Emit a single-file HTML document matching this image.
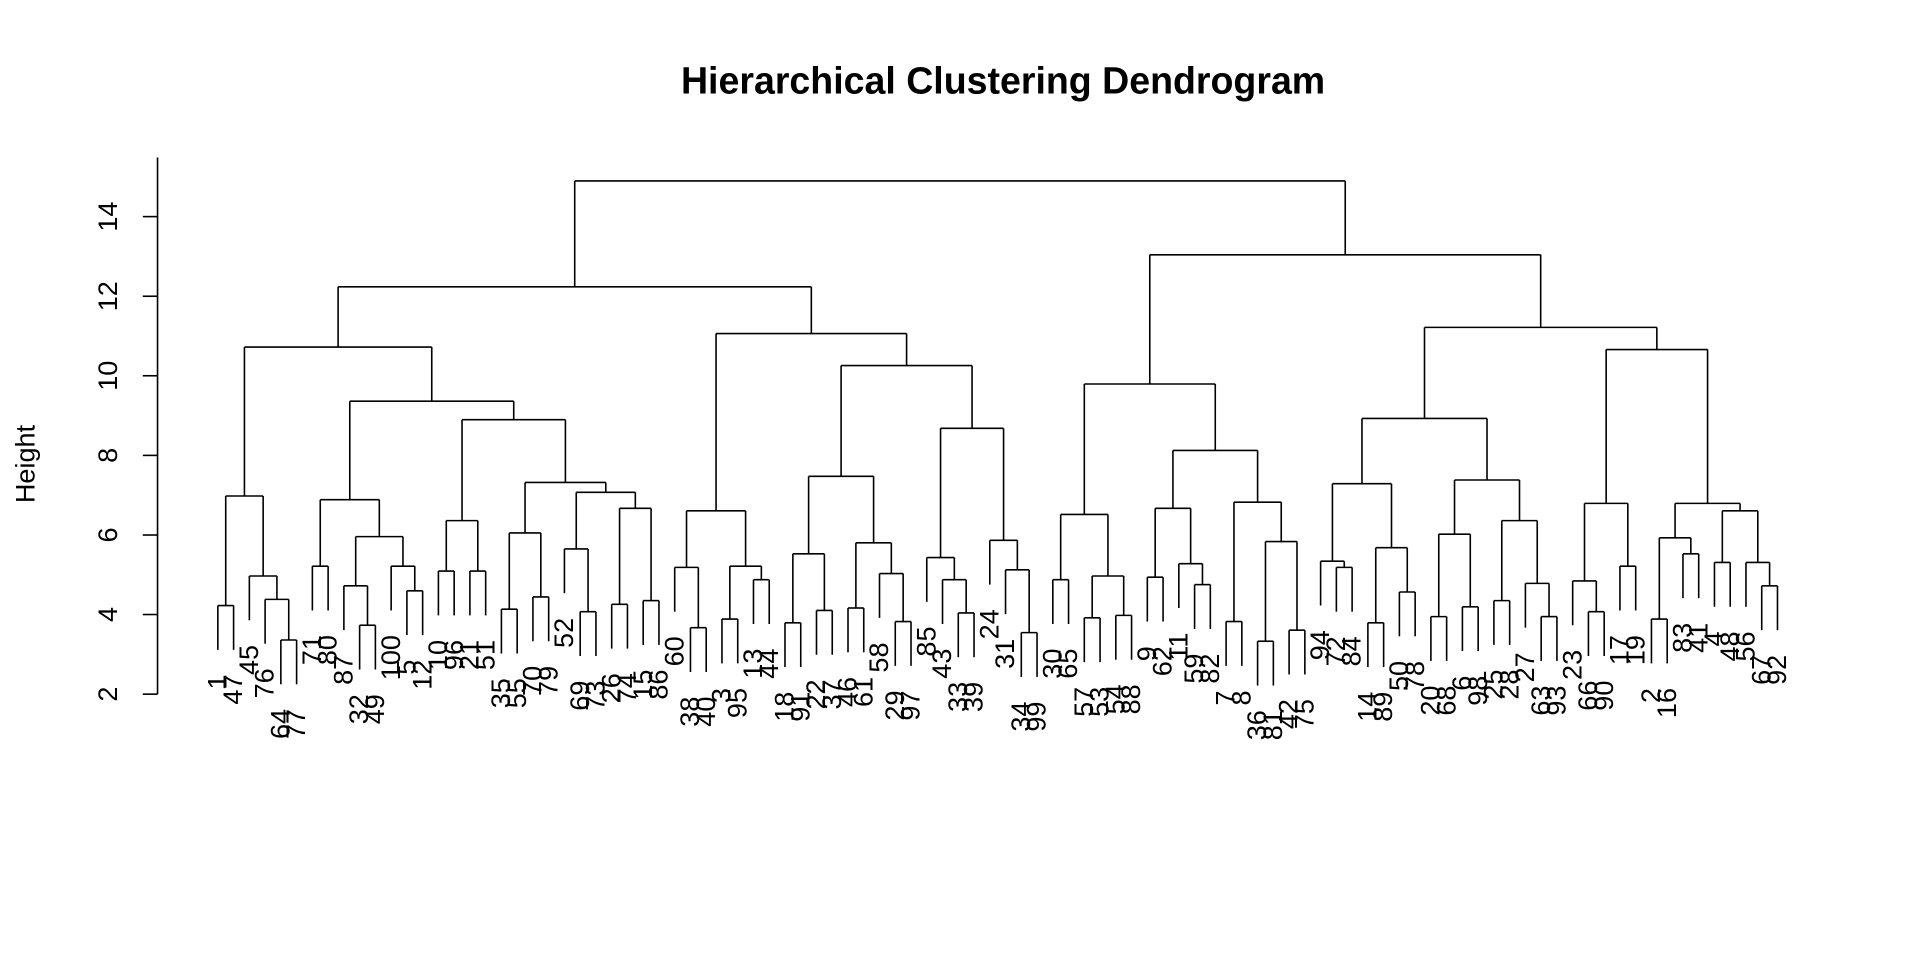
<!DOCTYPE html>
<html><head><meta charset="utf-8"><style>html,body{margin:0;padding:0;background:#fff;}svg{display:block}</style></head>
<body>
<svg id="s" width="1920" height="960" viewBox="0 0 1560 780" preserveAspectRatio="none" xmlns="http://www.w3.org/2000/svg" font-family="Liberation Sans, Arial, sans-serif">
<rect width="1560" height="780" fill="#fff"/>
<text x="815" y="76" text-anchor="middle" font-weight="bold" font-size="30.5">Hierarchical Clustering Dendrogram</text>
<text transform="translate(28,377) rotate(-90)" text-anchor="middle" font-size="22">Height</text>
<g stroke="#000" stroke-width="1.3" fill="none">
<line x1="128" y1="128" x2="128" y2="564"/>
<line x1="116" y1="564" x2="128" y2="564"/>
<line x1="116" y1="499.3" x2="128" y2="499.3"/>
<line x1="116" y1="434.7" x2="128" y2="434.7"/>
<line x1="116" y1="370" x2="128" y2="370"/>
<line x1="116" y1="305.3" x2="128" y2="305.3"/>
<line x1="116" y1="240.7" x2="128" y2="240.7"/>
<line x1="116" y1="176" x2="128" y2="176"/>
</g>
<g font-size="22" text-anchor="middle">
<text transform="translate(95,564) rotate(-90)">2</text>
<text transform="translate(95,499.3) rotate(-90)">4</text>
<text transform="translate(95,434.7) rotate(-90)">6</text>
<text transform="translate(95,370) rotate(-90)">8</text>
<text transform="translate(95,305.3) rotate(-90)">10</text>
<text transform="translate(95,240.7) rotate(-90)">12</text>
<text transform="translate(95,176) rotate(-90)">14</text>
</g>
<g id="tree" stroke="#000" stroke-width="1.3" fill="none"></g>
<g id="labs" font-size="22" text-anchor="end"></g>
</svg>
<script>
var labels=[1,47,45,76,64,77,71,80,87,32,49,100,5,12,10,96,21,51,35,55,70,79,52,69,73,26,74,15,86,60,38,40,3,95,13,44,18,91,22,37,46,61,58,29,97,85,43,33,39,24,31,34,99,30,65,57,53,54,88,9,62,11,59,82,7,8,36,81,42,75,94,72,84,14,89,50,78,20,68,6,98,25,28,27,63,93,23,66,90,17,19,2,16,83,41,4,48,56,67,92];
var A1=[403,[492,0,1],[468,2,[487,3,[520,4,5]]]];
var A2=[406,[460,6,7],[436,[476,8,[508,9,10]],[460,11,[480,12,13]]]];
var A3=[341,[423,[464,14,15],[464,16,17]],[392,[433,[495,18,19],[485,20,21]],[400,[446,22,[497,23,24]],[413,[491,25,26],[488,27,28]]]]];
var A=[282,A1,[326,A2,A3]];
var B1=[415,[461,29,[510,30,31]],[460,[503,32,33],[471,34,35]]];
var B2=[297,[387,[450,[506,36,37],[496,38,39]],[441,[494,40,41],[466,42,[505,43,44]]]],[348,[453,45,[471,46,[498,47,48]]],[439,49,[463,50,[514,51,52]]]]];
var B=[271,B1,B2];
var C=[312,[418,[471,53,54],[468,[502,55,56],[500,57,58]]],[366,[413,[469,59,60],[458,61,[475,62,63]]],[408,[505,64,65],[440,[521,66,67],[512,68,69]]]]];
var D1=[340,[393,[456,70,[461,71,72]],[445,[506,73,74],[481,75,76]]],[390,[434,[501,77,78],[493,79,80]],[423,[488,81,82],[474,83,[501,84,85]]]]];
var D2=[284,[409,[472,86,[497,87,88]],[460,89,90]],[409,[437,[503,91,92],[450,93,94]],[415,[457,95,96],[457,97,[476,98,99]]]]];
var D=[266,D1,D2];
var root=[147,[233,A,B],[207,C,D]];
var HANG=36,GAP=20;
var T=document.getElementById('tree'),L=document.getElementById('labs'),NS='http://www.w3.org/2000/svg';
function ln(x1,y1,x2,y2){var e=document.createElementNS(NS,'line');e.setAttribute('x1',x1);e.setAttribute('y1',y1);e.setAttribute('x2',x2);e.setAttribute('y2',y2);T.appendChild(e);}
function lx(i){return 177+i*12.8;}
function walk(n,py){
  if(typeof n==='number'){
    var x=lx(n),b=py+HANG;ln(x,py,x,b);
    var t=document.createElementNS(NS,'text');t.setAttribute('transform','translate('+(x+7)+','+(b+GAP)+') rotate(-90)');t.textContent=labels[n];L.appendChild(t);
    return x;}
  var y=n[0],a=walk(n[1],y),c=walk(n[2],y);
  ln(a,y,c,y);var m=(a+c)/2;if(py!==null)ln(m,py,m,y);return m;
}
walk(root,null);
</script>
</body></html>
